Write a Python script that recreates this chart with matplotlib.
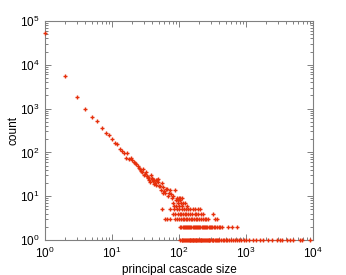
import matplotlib
matplotlib.use("Agg")
import matplotlib.pyplot as plt
from matplotlib.ticker import LogLocator, LogFormatterMathtext, NullFormatter

plt.rcParams['font.family'] = ['Liberation Sans', 'DejaVu Sans']
plt.rcParams['mathtext.fontset'] = 'custom'
plt.rcParams['mathtext.rm'] = 'Liberation Sans'

# Upper part of the distribution (one count per size)
sizes_top = [1, 2, 3, 4, 5, 6, 7, 8, 9, 10, 11, 12, 13, 14, 15, 16, 17, 18, 19, 20,
             21, 22, 23, 24, 25, 26, 27, 28, 29, 30, 31, 32, 33, 34, 35, 36, 37, 38, 39, 40,
             41, 42, 43, 44, 45, 46, 47, 48, 49, 50, 52, 54, 56, 57, 58, 60, 62, 64, 66, 68,
             70, 73, 76, 79, 82, 87, 90, 93, 96]
counts_top = [53000, 5500, 1850, 1000, 650, 520, 360, 280, 255, 200, 165, 155, 120, 107, 98, 75, 98, 70, 75, 68,
              60, 57, 54, 48, 45, 42, 38, 36, 42, 31, 33, 35, 29, 27, 26, 24, 21, 30, 26, 25,
              22, 23, 19, 20, 23, 18, 23, 25, 21, 17, 17, 14, 20, 16, 12, 13, 12, 15, 15, 10,
              12, 14, 11, 9, 10, 14, 8, 9, 8]

# Sizes that show up at the low integer count levels
sizes_c9 = [100, 103, 110]
sizes_c8 = [98, 105]
sizes_c7 = [81, 97, 106, 115, 123]
sizes_c6 = [85, 91, 99, 112, 130]
sizes_c5 = [55, 74, 84, 94, 101, 109, 118, 126, 136, 145, 161, 175, 192, 205]
sizes_c4 = [81, 88, 95, 104, 108, 114, 121, 129, 138, 146, 158, 171, 182, 193, 215, 228, 320]
sizes_c3 = [62, 66, 73, 86, 92, 99, 107, 113, 120, 127, 133, 140, 149, 156, 166, 176, 187, 197,
            212, 226, 240, 255, 270, 345, 370]
sizes_c2 = [104, 108, 113, 117, 122, 127, 131, 137, 142, 148, 153, 159, 166, 172, 178, 185, 193, 200,
            208, 217, 225, 234, 243, 253, 264, 275, 287, 300, 313, 330, 348, 365, 390, 415, 440,
            545, 620, 730]
sizes_c1 = [102, 109, 111, 116, 119, 124, 126, 132, 135, 139, 144, 147, 151, 155, 161, 163, 168, 174,
            177, 181, 187, 190, 196, 203, 211, 214, 221, 229, 236, 245, 250, 258, 266, 278, 283, 292,
            305, 318, 326, 340, 356, 372, 385, 400, 420, 445, 470, 495, 520, 560, 600, 640, 680, 720,
            780, 850, 920, 1000, 1100, 1250, 1400, 1600, 1800, 2130, 2450, 2900, 3200, 3430, 4060,
            4500, 5000, 6370, 6800, 9000]

levels = [(9, sizes_c9), (8, sizes_c8), (7, sizes_c7), (6, sizes_c6), (5, sizes_c5),
          (4, sizes_c4), (3, sizes_c3), (2, sizes_c2), (1, sizes_c1)]

xs = list(sizes_top)
ys = list(counts_top)
for c, s in levels:
    xs += s
    ys += [c] * len(s)

fig = plt.figure(figsize=(3.46, 2.75), dpi=100)
ax = fig.add_axes([0.130, 0.127, 0.775, 0.797])

ax.plot(xs, ys, '+', ms=2.4, mew=1.0, color='#e6300c', clip_on=False, zorder=3)

ax.set_xscale('log')
ax.set_yscale('log')
ax.set_xlim(1, 1e4)
ax.set_ylim(1, 1e5)

grey = '#808080'
for sp in ax.spines.values():
    sp.set_color(grey)
    sp.set_linewidth(0.8)

ax.xaxis.set_major_locator(LogLocator(base=10, numticks=10))
ax.yaxis.set_major_locator(LogLocator(base=10, numticks=10))
ax.xaxis.set_minor_locator(LogLocator(base=10, subs=range(2, 10), numticks=20))
ax.yaxis.set_minor_locator(LogLocator(base=10, subs=range(2, 10), numticks=20))
ax.xaxis.set_major_formatter(LogFormatterMathtext())
ax.yaxis.set_major_formatter(LogFormatterMathtext())
ax.xaxis.set_minor_formatter(NullFormatter())
ax.yaxis.set_minor_formatter(NullFormatter())

ax.tick_params(which='both', direction='in', top=True, right=True, color=grey,
               labelsize=8.5, width=0.7)
ax.tick_params(which='major', length=4, pad=4)
ax.tick_params(which='minor', length=2)

ax.set_xlabel('principal cascade size', fontsize=8.5, labelpad=2)
ax.set_ylabel('count', fontsize=8.5, labelpad=0)

fig.savefig('out.png', dpi=100)
